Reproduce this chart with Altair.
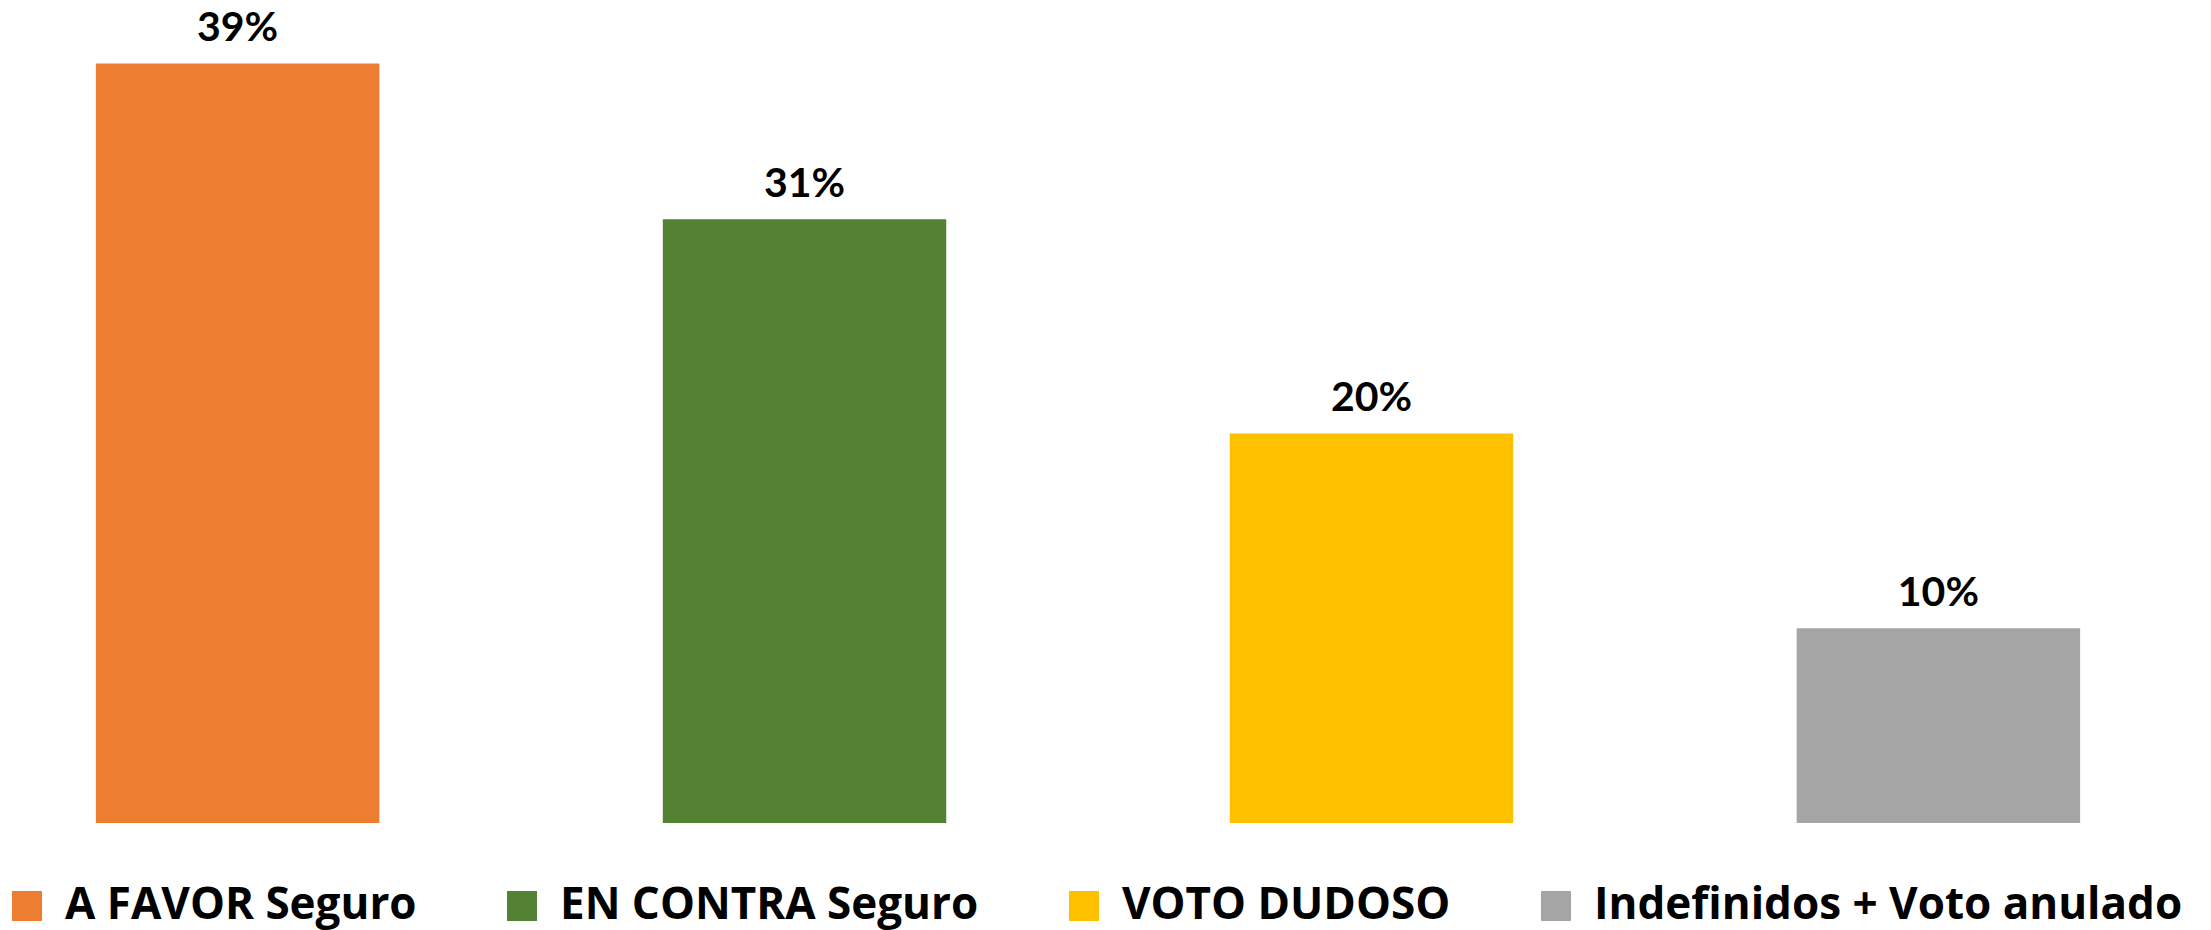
import altair as alt
import pandas as pd

categories = ["A FAVOR Seguro", "EN CONTRA Seguro", "VOTO DUDOSO", "Indefinidos + Voto anulado"]
values = [39, 31, 20, 10]
labels = ["39%", "31%", "20%", "10%"]
colors = ["#ED7D31", "#548235", "#FFC000", "#A5A5A5"]

df = pd.DataFrame({"cat": categories, "val": values, "lab": labels})

x = alt.X("cat:N", sort=categories, axis=None,
          scale=alt.Scale(paddingInner=0.5, paddingOuter=0.155))
y = alt.Y("val:Q", axis=None, scale=alt.Scale(domain=[0, 41.54], nice=False, zero=True))

bars = alt.Chart(df).mark_bar().encode(
    x=x, y=y,
    color=alt.Color("cat:N", sort=categories,
                    scale=alt.Scale(domain=categories, range=colors),
                    legend=alt.Legend(
                        title=None, orient="none", direction="horizontal",
                        legendX=-3, legendY=870, padding=0,
                        symbolType="square", symbolSize=900, symbolStrokeWidth=0,
                        labelFont="Open Sans", labelFontSize=44, labelFontWeight="bold",
                        labelColor="#000000", labelOffset=16, columnPadding=83,
                        labelLimit=1000))
)

text = alt.Chart(df).mark_text(
    font="Lato", fontSize=41, fontWeight="bold", color="#000000",
    baseline="alphabetic", dy=-22
).encode(x=x, y=y, text="lab:N")

chart = alt.layer(bars, text).properties(
    width=2160, height=809,
    padding={"top": 6, "left": 0, "right": 35, "bottom": 125},
    autosize=alt.AutoSizeParams(type="none")
).configure_view(stroke=None)

chart.save("out.html", embed_options={"renderer": "svg", "actions": False})
